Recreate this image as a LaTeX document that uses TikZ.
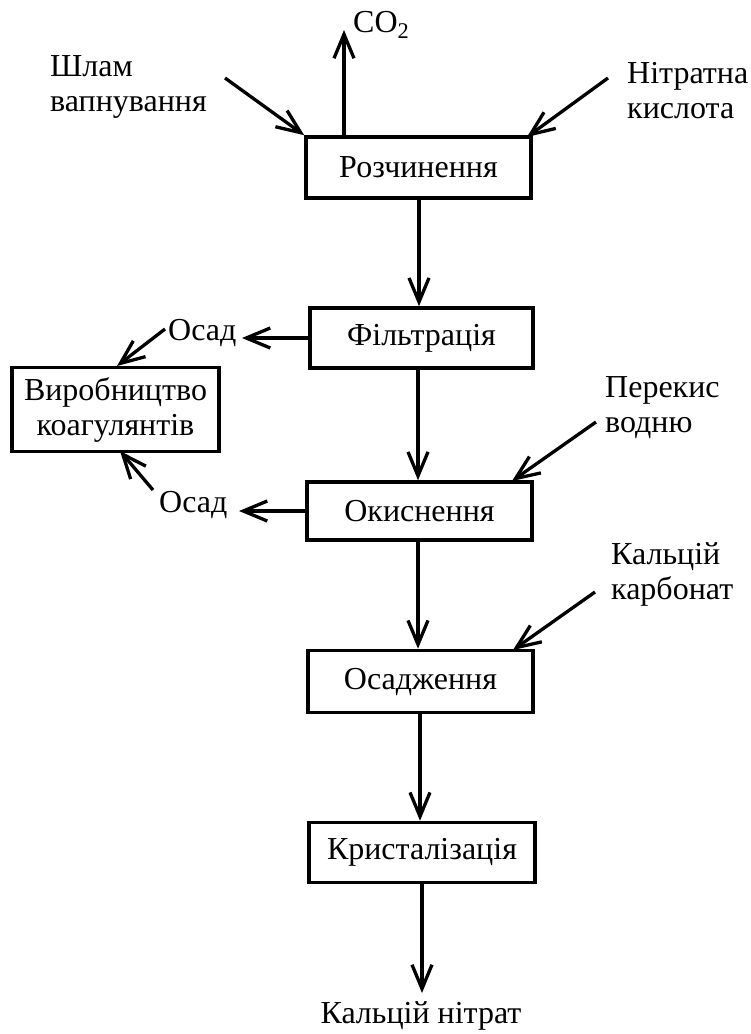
\documentclass[tikz,border=0pt]{standalone}
\usepackage{fontspec}
\setmainfont{Liberation Serif}
\usetikzlibrary{arrows.meta}
\begin{document}
\begin{tikzpicture}[x=1pt,y=-1pt,
  every node/.style={font=\fontsize{32}{35}\selectfont},
  stagebox/.style={draw,line width=3.6pt,inner sep=0pt,minimum width=225pt,minimum height=60pt},
  lbl/.style={inner sep=0pt,align=left,anchor=west},
  flow/.style={line width=3.3pt,-{Straight Barb[length=24pt,width=20pt,line width=3.3pt]}}]
\useasboundingbox (0,0) rectangle (751,1034);
% process boxes
\node[stagebox,minimum height=61pt] (r) at (418.5,167.5) {Розчинення};
\node[stagebox,minimum width=223pt] (f) at (421.5,338) {Фільтрація};
\node[stagebox,minimum height=58pt] (o) at (419.5,511) {Окиснення};
\node[stagebox,minimum height=62pt] (os) at (420.5,681.5) {Осадження};
\node[stagebox,minimum width=226pt] (k) at (422,852.5) {Кристалізація};
\node[stagebox,minimum width=207pt,minimum height=84pt,align=center] (v) at (115.5,409.5) {Виробництво\\коагулянтів};
% labels
\node[lbl] (co2) at (353,25) {CO\textsubscript{2}};
\node[lbl] (shlam) at (50,87) {Шлам\\вапнування};
\node[lbl] (nitr) at (627,91) {Нітратна\\кислота};
\node[lbl] (perek) at (605,408) {Перекис\\водню};
\node[lbl] (kalc) at (611,574) {Кальцій\\карбонат};
\node[lbl] (osad1) at (168,333) {Осад};
\node[lbl] (osad2) at (159,505) {Осад};
\node[inner sep=0pt] (kn) at (421,1016) {Кальцій нітрат};
% free ends
\coordinate (shT) at (225,78);
\coordinate (niT) at (608,78);
\coordinate (niH) at (527,137);
\coordinate (coB) at (344,137);
\coordinate (coT) at (344,30);
\coordinate (o1T) at (165,329);
\coordinate (o1H) at (117,366);
\coordinate (o2T) at (153,490);
\coordinate (o2H) at (120,451);
\coordinate (peT) at (596,422);
\coordinate (peH) at (512,481);
\coordinate (kaT) at (595,592);
\coordinate (kaH) at (513,650);
\coordinate (knH) at (422,993);
% connectors
\draw[flow] (shT) -- (r.north west);
\draw[flow] (niT) -- (niH);
\draw[flow] (coB) -- (coT);
\draw[flow] (419,198) coordinate (rS) -- (rS |- f.north);
\draw[flow] (f.west) -- (242,338) coordinate (f1H);
\draw[flow] (o1T) -- (o1H);
\draw[flow] (418,368) coordinate (fS) -- (fS |- o.north);
\draw[flow] (peT) -- (peH);
\draw[flow] (o.west) -- (239,511) coordinate (o2W);
\draw[flow] (o2T) -- (o2H);
\draw[flow] (418,540) coordinate (oS) -- (oS |- os.north);
\draw[flow] (kaT) -- (kaH);
\draw[flow] (420,712) coordinate (osS) -- (osS |- k.north);
\draw[flow] (k.south) -- (knH);
\end{tikzpicture}
\end{document}
